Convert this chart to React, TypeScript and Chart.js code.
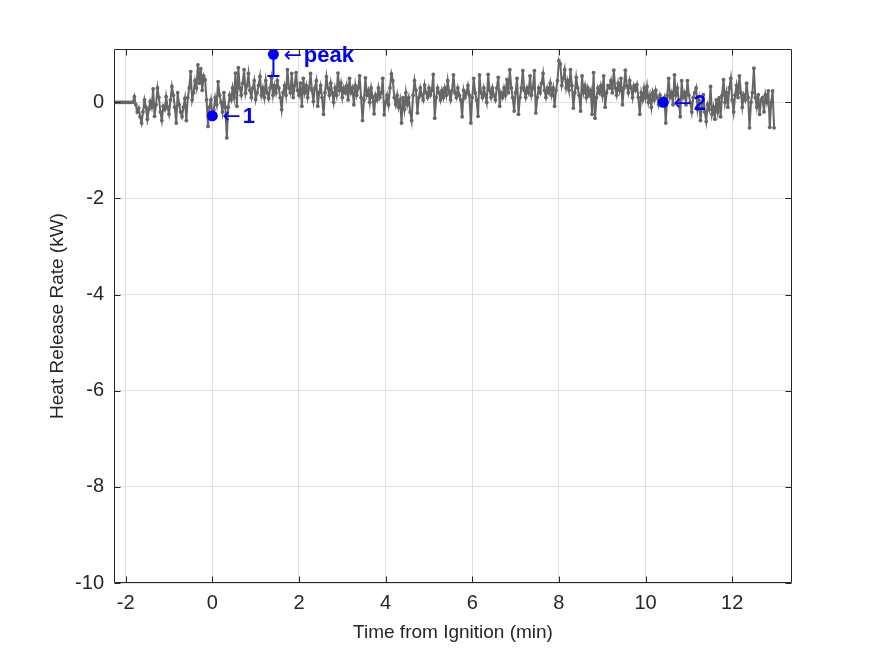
import React, { useEffect, useRef } from "react";
import { Chart, registerables } from "chart.js";

Chart.register(...registerables);

// Sampling: one reading every 2 s, starting 136 s before ignition
const START_SEC = -136;
const STEP_SEC = 2;

// Heat release rate readings (kW)
const HRR_KW = [
  0, 0, 0, 0, 0, 0, 0, 0, 0, 0, 0, 0,
  0, 0, 0.12, -0.05, -0.2, -0.12, -0.3, -0.43, -0.2, 0.05, -0.1, -0.35,
  -0.15, 0.02, -0.1, 0.28, -0.29, -0.05, 0.3, 0.1, -0.2, -0.38, -0.08, -0.15,
  0.12, -0.1, -0.25, 0.05, 0.33, 0.15, -0.1, -0.43, 0.2, -0.05, -0.2, -0.3,
  -0.1, 0.08, -0.38, 0.1, 0.3, 0.64, 0.05, 0.2, 0.45, 0.3, 0.78, 0.4,
  0.7, 0.25, 0.55, 0.47, 0.05, -0.5, -0.1, 0.05, -0.28, -0.15, 0.1, -0.05,
  0.43, 0.15, 0.0, -0.2, 0.2, -0.1, -0.74, -0.1, 0.15, 0.05, 0.3, 0.1,
  0.61, -0.08, 0.72, 0.3, 0.15, 0.4, 0.68, 0.19, 0.35, 0.6, 0.25, 0.1,
  0.3, 0.45, 0.06, 0.2, 0.35, 0.54, 0.15, 0.3, 0.1, 0.45, 0.2, 0.08,
  0.3, 0.5, 0.15, 0.35, 0.2, 0.45, 0.3, 0.1, -0.15, 0.2, 0.35, 0.15,
  0.68, 0.3, 0.2, 0.6, 0.1, 0.35, 0.62, 0.25, 0.15, 0.4, -0.08, 0.5,
  0.2, 0.35, 0.1, 0.3, 0.6, 0.25, 0.02, 0.3, 0.45, -0.08, 0.2, 0.35,
  0.1, -0.25, 0.2, 0.53, 0.3, 0.15, 0.4, 0.2, 0.0, 0.3, 0.15, 0.61,
  0.25, 0.4, 0.1, 0.3, 0.2, 0.35, 0.05, 0.5, 0.2, 0.3, -0.05, 0.35,
  0.15, 0.3, 0.55, 0.1, -0.38, 0.05, 0.51, 0.15, 0.25, 0.0, 0.3, 0.1,
  -0.24, 0.15, 0.05, 0.3, 0.1, 0.2, 0.5, -0.26, 0.0, 0.15, -0.05, 0.3,
  0.59, 0.45, 0.1, -0.05, 0.15, -0.1, 0.05, -0.43, 0.1, -0.15, 0.2, -0.05,
  0.1, -0.2, -0.38, 0.15, 0.45, 0.25, -0.22, 0.1, 0.3, 0.15, 0.05, 0.36,
  0.2, 0.1, 0.3, 0.15, 0.25, 0.58, -0.33, 0.1, 0.3, 0.2, 0.05, 0.25,
  0.1, 0.3, 0.15, 0.45, 0.2, 0.05, 0.25, 0.57, 0.2, 0.1, 0.3, 0.15,
  0.05, -0.3, 0.25, 0.1, 0.2, 0.35, 0.15, -0.43, 0.1, 0.5, 0.2, 0.05,
  -0.29, 0.57, 0.2, 0.1, 0.3, 0.15, 0.0, 0.58, 0.25, 0.1, 0.3, 0.15,
  0.05, 0.3, 0.52, -0.08, 0.2, 0.1, 0.3, 0.15, 0.48, 0.2, 0.68, 0.3,
  0.1, -0.18, 0.2, 0.5, -0.25, 0.1, 0.3, 0.66, 0.25, 0.1, 0.3, 0.2,
  0.55, 0.15, 0.3, 0.66, -0.22, 0.1, 0.3, 0.2, 0.4, 0.6, 0.25, 0.1,
  0.3, 0.2, 0.4, 0.15, 0.3, -0.08, 0.25, 0.45, 0.87, 0.8, 0.35, 0.5,
  0.68, 0.3, 0.45, 0.25, 0.68, 0.35, -0.12, 0.2, 0.52, 0.3, 0.15, -0.18,
  0.55, 0.2, 0.35, 0.1, 0.3, 0.15, 0.25, -0.25, 0.62, -0.33, 0.1, 0.3,
  0.2, 0.35, 0.15, 0.55, -0.1, 0.2, 0.35, 0.3, 0.45, 0.2, 0.67, 0.3,
  0.15, 0.4, 0.25, 0.5, -0.05, 0.3, 0.67, 0.35, 0.2, 0.45, 0.3, 0.1,
  0.35, 0.25, 0.37, 0.1, -0.25, 0.2, 0.05, 0.3, 0.1, 0.33, 0.0, 0.15,
  -0.1, 0.2, 0.05, 0.25, 0.1, -0.05, 0.15, 0.05, 0.0, 0.1, -0.43, 0.15,
  0.5, 0.1, 0.2, -0.05, 0.57, 0.15, 0.3, 0.05, -0.3, 0.45, 0.1, 0.2,
  -0.05, 0.45, 0.15, 0.0, -0.2, 0.1, 0.2, 0.3, -0.15, 0.05, -0.38, -0.1,
  0.16, -0.2, -0.4, -0.05, -0.15, 0.33, -0.25, -0.1, -0.35, 0.05, -0.2, 0.1,
  -0.3, 0.15, 0.47, 0.0, 0.2, -0.1, 0.3, 0.5, 0.05, -0.2, 0.15, 0.35,
  0.1, 0.55, 0.2, -0.1, 0.15, 0.05, 0.4, 0.1, -0.53, 0.0, 0.2, 0.71,
  0.1, -0.1, 0.16, -0.25, 0.05, 0.1, -0.2, 0.16, 0.0, 0.24, -0.52, 0.0,
  0.24, -0.53,
];

// Labelled events
const MARK_LABELS = ["1", "peak", "2"];
const MARK_TIMES = [0, 1.41, 10.41];
const MARK_VALUES = [-0.28, 1.0, 0.0];
// Lower end of the uncertainty bar on the peak
const PEAK_LOW = 0.55;

// Axes
const X_TICKS = [-2, 0, 2, 4, 6, 8, 10, 12];
const Y_TICKS = [-10, -8, -6, -4, -2, 0];
const X_MIN = -2.27;
const X_MAX = 13.38;
const Y_MIN = -10;
const Y_MAX = 1.11;

const X_TITLE = "Time from Ignition (min)";
const Y_TITLE = "Heat Release Rate (kW)";

const FONT = '"Liberation Sans", Arial, Helvetica, sans-serif';
const AXIS_COLOR = "#262626";
const GRID_COLOR = "#dfdfdf";
const LINE_GRAY = "#666666";
const MARK_BLUE = "#0000ff";

const W = 875;
const H = 656;

const axesPlugin = {
  id: "matlabAxes",
  afterDatasetsDraw(chart: any) {
    const { ctx, chartArea: a, scales } = chart;
    const xs = scales.x;
    const ys = scales.y;
    ctx.save();
    // peak uncertainty bar
    const pi = MARK_LABELS.indexOf("peak");
    const bx = xs.getPixelForValue(MARK_TIMES[pi]);
    const bTop = ys.getPixelForValue(MARK_VALUES[pi]);
    const bLow = ys.getPixelForValue(PEAK_LOW);
    ctx.strokeStyle = MARK_BLUE;
    ctx.lineWidth = 2;
    ctx.beginPath();
    ctx.moveTo(bx, bTop);
    ctx.lineTo(bx, bLow);
    ctx.moveTo(bx - 6, bLow);
    ctx.lineTo(bx + 6, bLow);
    ctx.stroke();

    // box
    ctx.strokeStyle = AXIS_COLOR;
    ctx.lineWidth = 1;
    const L = Math.round(a.left) + 0.5;
    const R = Math.round(a.right) - 0.5;
    const T = Math.round(a.top) + 0.5;
    const B = Math.round(a.bottom) - 0.5;
    ctx.beginPath();
    ctx.rect(L, T, R - L, B - T);
    // inward ticks
    const tl = 6;
    X_TICKS.forEach((v) => {
      const px = Math.round(xs.getPixelForValue(v)) + 0.5;
      ctx.moveTo(px, B);
      ctx.lineTo(px, B - tl);
      ctx.moveTo(px, T);
      ctx.lineTo(px, T + tl);
    });
    Y_TICKS.forEach((v) => {
      const py = Math.round(ys.getPixelForValue(v)) + 0.5;
      ctx.moveTo(L, py);
      ctx.lineTo(L + tl, py);
      ctx.moveTo(R, py);
      ctx.lineTo(R - tl, py);
    });
    ctx.stroke();

    // event labels
    MARK_LABELS.forEach((lab, i) => {
      const px = xs.getPixelForValue(MARK_TIMES[i]);
      const py = ys.getPixelForValue(MARK_VALUES[i]) + 1.5;
      ctx.fillStyle = MARK_BLUE;
      ctx.textBaseline = "middle";
      ctx.textAlign = "left";
      ctx.font = '22px "DejaVu Sans", sans-serif';
      const arrow = "\u2190";
      ctx.fillText(arrow, px + 10, py);
      const aw = ctx.measureText(arrow).width;
      ctx.font = `bold 22px ${FONT}`;
      ctx.fillText(lab, px + 10 + aw + 2, py);
    });

    // axis titles
    ctx.fillStyle = AXIS_COLOR;
    ctx.font = `19px ${FONT}`;
    ctx.textAlign = "center";
    ctx.textBaseline = "middle";
    ctx.fillText(X_TITLE, (a.left + a.right) / 2, 633);
    ctx.translate(58, (a.top + a.bottom) / 2);
    ctx.rotate(-Math.PI / 2);
    ctx.fillText(Y_TITLE, 0, 0);
    ctx.restore();
  },
};

export default function App() {
  const ref = useRef<HTMLCanvasElement | null>(null);

  useEffect(() => {
    if (!ref.current) return;
    const series = HRR_KW.map((v, i) => ({
      x: (START_SEC + i * STEP_SEC) / 60,
      y: v,
    }));
    const marks = MARK_TIMES.map((t, i) => ({ x: t, y: MARK_VALUES[i] }));

    const chart = new Chart(ref.current, {
      type: "scatter",
      data: {
        datasets: [
          {
            label: "events",
            data: marks,
            showLine: false,
            pointRadius: 5.5,
            pointBackgroundColor: MARK_BLUE,
            pointBorderWidth: 0,
            order: 0,
            clip: false as any,
          },
          {
            label: "HRR",
            data: series,
            showLine: true,
            borderColor: LINE_GRAY,
            borderWidth: 2,
            pointRadius: 1.9,
            pointBackgroundColor: LINE_GRAY,
            pointBorderWidth: 0,
            order: 1,
          },
        ],
      },
      options: {
        responsive: false,
        animation: false,
        events: [],
        layout: { padding: { top: 49, right: W - 792, left: 0, bottom: 0 } },
        plugins: {
          legend: { display: false },
          tooltip: { enabled: false },
          title: { display: false },
        },
        scales: {
          x: {
            type: "linear",
            min: X_MIN,
            max: X_MAX,
            afterBuildTicks: (s: any) => {
              s.ticks = X_TICKS.map((v) => ({ value: v }));
            },
            afterFit: (s: any) => {
              s.height = H - 583;
            },
            grid: { color: GRID_COLOR, drawTicks: false, lineWidth: 1 },
            border: { display: false },
            ticks: {
              color: AXIS_COLOR,
              font: { family: FONT, size: 20 },
              padding: 8,
              maxRotation: 0,
              callback: (v: any) => String(v),
            },
          },
          y: {
            type: "linear",
            min: Y_MIN,
            max: Y_MAX,
            afterBuildTicks: (s: any) => {
              s.ticks = Y_TICKS.map((v) => ({ value: v }));
            },
            afterFit: (s: any) => {
              s.width = 114;
            },
            grid: { color: GRID_COLOR, drawTicks: false, lineWidth: 1 },
            border: { display: false },
            ticks: {
              color: AXIS_COLOR,
              font: { family: FONT, size: 20 },
              padding: 10,
              callback: (v: any) => String(v),
            },
          },
        },
      },
      plugins: [axesPlugin],
    });
    return () => chart.destroy();
  }, []);

  return (
    <div style={{ position: "absolute", left: 0, top: 0, width: W, height: H, background: "#fff" }}>
      <canvas ref={ref} width={W} height={H} style={{ display: "block" }} />
    </div>
  );
}
